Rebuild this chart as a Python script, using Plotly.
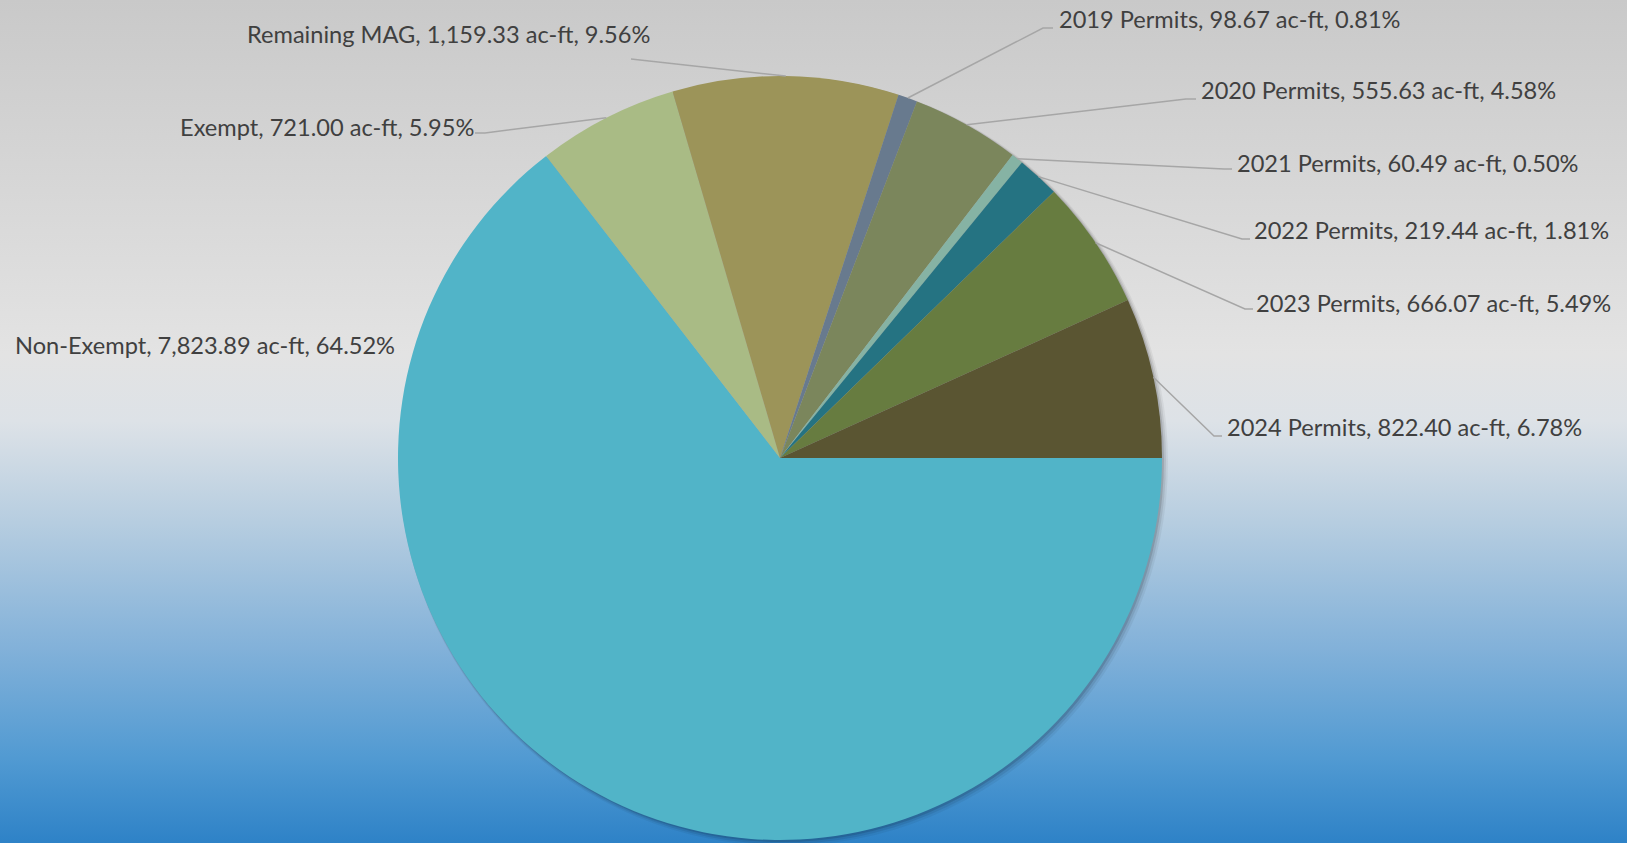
import math
import base64
import plotly.graph_objects as go

# ---------------- data ----------------
categories = ["Non-Exempt", "Exempt", "Remaining MAG", "2019 Permits", "2020 Permits",
              "2021 Permits", "2022 Permits", "2023 Permits", "2024 Permits"]
values = [7823.89, 721.00, 1159.33, 98.67, 555.63, 60.49, 219.44, 666.07, 822.40]
colors = ["#51b4c8", "#a9bb85", "#9c9459", "#687a8e", "#7b865c",
          "#86b3a4", "#257382", "#677c40", "#5a5532"]

# ---------------- layout constants (pixels) ----------------
W, H = 1627, 843
CX, CY, R = 780, 458, 382          # pie centre / radius
FONT = "Lato, 'Open Sans', sans-serif"
FSIZE = 23.6
TXT = "#404040"
LINE = "#a6a6a6"

# label anchor (left x, centre y) per category
label_pos = [(13, 345), (178, 127), (245, 34), (1057, 19), (1199, 90),
             (1235, 163), (1252, 230), (1254, 303), (1225, 427)]
# leader elbow point and end of the short horizontal tail (None = no leader)
leader = [None,
          ((485, 133), (475, 133)),
          ((631, 59), (631, 59)),
          ((1043, 28), (1053, 28)),
          ((1186, 99), (1196, 99)),
          ((1224, 169), (1232, 169)),
          ((1242, 239), (1250, 239)),
          ((1245, 309), (1253, 309)),
          ((1214, 436), (1222, 436))]


def px(x):
    return x / W


def py(y):
    return 1 - y / H


total = sum(values)

fig = go.Figure()
fig.add_trace(go.Pie(
    labels=categories, values=values, sort=False, direction="clockwise", rotation=90,
    marker=dict(colors=colors, line=dict(width=0)),
    textinfo="none", hoverinfo="label+value+percent", showlegend=False,
    domain=dict(x=[px(CX - R), px(CX + R)], y=[py(CY + R), py(CY - R)]),
))

# background gradient
svg = (
    '<svg xmlns="http://www.w3.org/2000/svg" width="100" height="100" preserveAspectRatio="none">'
    '<defs><linearGradient id="g" x1="0" y1="0" x2="0" y2="1">'
    '<stop offset="0" stop-color="#c9c9c9"/>'
    '<stop offset="0.42" stop-color="#e3e3e3"/>'
    '<stop offset="0.50" stop-color="#dde2e7"/>'
    '<stop offset="0.62" stop-color="#b6cde0"/>'
    '<stop offset="0.77" stop-color="#82b1d9"/>'
    '<stop offset="0.90" stop-color="#519ad2"/>'
    '<stop offset="1" stop-color="#2e82c7"/>'
    '</linearGradient></defs><rect width="100" height="100" fill="url(#g)"/></svg>'
)
src = "data:image/svg+xml;base64," + base64.b64encode(svg.encode()).decode()

shapes = []
# soft shadow rings
for i, op in enumerate([0.12, 0.08, 0.05]):
    o = 2 + i * 2
    shapes.append(dict(type="circle", xref="paper", yref="paper", layer="below",
                       x0=px(CX - R + 1), x1=px(CX + R + o), y0=py(CY + R + o), y1=py(CY - R + 1),
                       line=dict(width=0), fillcolor=f"rgba(0,0,0,{op})"))

annotations = []
cum = 0.0
for cat, val, (lx, ly), ld in zip(categories, values, label_pos, leader):
    frac = val / total
    mid = cum + frac / 2
    cum += frac
    ang = math.radians(-mid * 360)  # clockwise from 3 o'clock
    ex, ey = CX + R * math.cos(ang), CY - R * math.sin(ang)
    text = f"{cat}, {val:,.2f} ac-ft, {frac * 100:.2f}%"
    annotations.append(dict(text=text, x=px(lx), y=py(ly), xref="paper", yref="paper",
                            xanchor="left", yanchor="middle", showarrow=False,
                            font=dict(family=FONT, size=FSIZE, color=TXT)))
    if ld is not None:
        (bx, by), (tx, ty) = ld
        path = f"M {px(ex)} {py(ey)} L {px(bx)} {py(by)} L {px(tx)} {py(ty)}"
        shapes.append(dict(type="path", path=path, xref="paper", yref="paper",
                           line=dict(color=LINE, width=1.5), layer="above"))

fig.update_layout(
    width=W, height=H, margin=dict(l=0, r=0, t=0, b=0),
    paper_bgcolor="#dddddd",
    images=[dict(source=src, xref="paper", yref="paper", x=0, y=1, sizex=1, sizey=1,
                 xanchor="left", yanchor="top", sizing="stretch", layer="below")],
    shapes=shapes, annotations=annotations,
)

fig.write_html("out.html")
